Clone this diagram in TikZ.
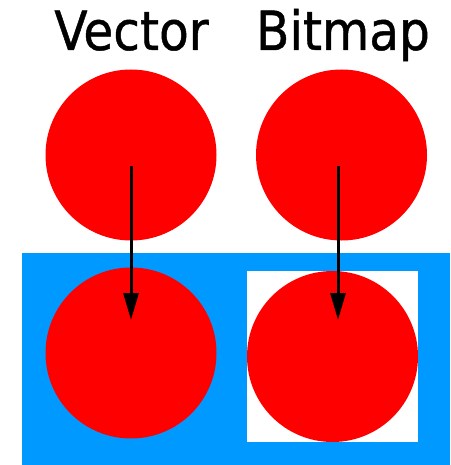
\documentclass[tikz,border=0pt]{standalone}
\usepackage{fontspec}
\newfontfamily\titlefont[FakeBold=0.8]{DejaVu Sans Condensed}
\usetikzlibrary{arrows.meta, positioning}
\definecolor{skyblue}{RGB}{0,153,255}

\begin{document}
\begin{tikzpicture}[
    x=1pt, y=-1pt,
    dot node/.style={circle, fill=red, minimum size=171pt, inner sep=0pt},
    title node/.style={anchor=base, inner sep=0pt, font=\titlefont\fontsize{54}{60}\selectfont},
    move arrow/.style={line width=3pt, -{Triangle[width=15pt, length=27pt]}}
]
    \useasboundingbox (0,0) rectangle (450,465);

    % Backgrounds
    \fill[skyblue] (22,253) rectangle (450,465);
    \fill[white] (247,271) rectangle (418,442);

    % Nodes
    \node[title node] (vtitle) at (131.5,50) {Vector};
    \node[title node] (btitle) at (343,50) {Bitmap};
    \node[dot node] (vtop) at (131,155) {};
    \node[dot node] (btop) at (341.5,155) {};
    \node[dot node] (vbot) at (131,353) {};
    \node[dot node] (bbot) at (332.5,356.5) {};

    \coordinate (vstart) at (131,166);
    \coordinate (vend) at (131,320);
    \coordinate (bstart) at (338,166);
    \coordinate (bend) at (338,320);

    % Edges
    \draw[move arrow] (vstart) -- (vend);
    \draw[move arrow] (bstart) -- (bend);
\end{tikzpicture}
\end{document}
